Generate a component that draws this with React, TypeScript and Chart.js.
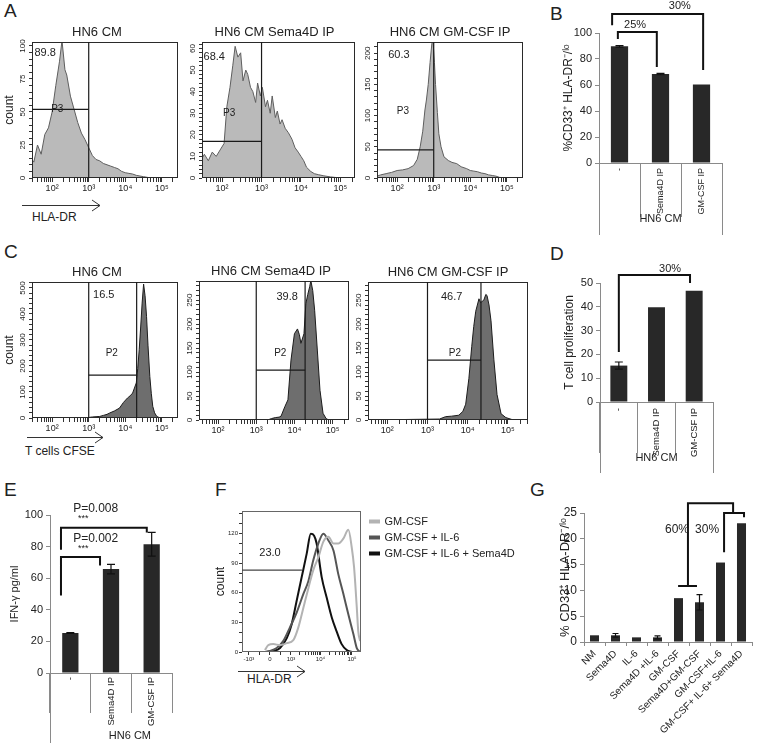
import React, { useEffect, useRef } from 'react';
import { Chart, registerables } from 'chart.js';

Chart.register(...registerables);

const FONT = 'Arial, "Liberation Sans", Helvetica, sans-serif';
Chart.defaults.font.family = FONT;
Chart.defaults.color = '#333';

// ---------------- Panel A : HLA-DR histograms (x = log10 intensity, y = count)
const a1Log = [1.45, 1.5, 1.6, 1.7, 1.8, 1.9, 2.0, 2.1, 2.2, 2.27, 2.35, 2.4, 2.5, 2.6, 2.7, 2.8, 2.9, 3.0, 3.1, 3.2, 3.3, 3.4, 3.5, 3.6, 3.7, 3.8, 3.9, 4.0, 4.1, 4.2, 4.3, 4.4, 4.5, 4.6, 4.7, 5.44];
const a1Count = [14, 12, 25, 18, 33, 38, 50, 70, 88, 104, 82, 78, 62, 52, 42, 34, 29, 23, 17, 14, 13, 11, 10, 9, 8, 7, 5, 4, 3.5, 3, 2, 1.5, 1, 0.5, 0, 0];

const a2Log = [1.49, 1.55, 1.65, 1.75, 1.85, 1.95, 2.05, 2.12, 2.2, 2.27, 2.33, 2.4, 2.47, 2.53, 2.6, 2.65, 2.72, 2.78, 2.85, 2.9, 2.97, 3.02, 3.1, 3.15, 3.22, 3.27, 3.35, 3.4, 3.47, 3.52, 3.6, 3.68, 3.77, 3.85, 3.93, 4.0, 4.07, 4.14, 4.25, 4.34, 4.45, 4.58, 4.75, 5.0, 5.37];
const a2Count = [9, 11, 8, 12, 10, 13, 16, 33, 42, 52, 61, 56, 58, 45, 50, 48, 42, 40, 35, 44, 38, 42, 33, 36, 30, 38, 28, 31, 25, 27, 23, 21, 18, 14, 12, 10, 8, 5, 3, 2, 1.5, 1, 0.5, 0, 0];

const a3Log = [1.45, 1.55, 1.7, 1.85, 2.0, 2.15, 2.3, 2.45, 2.55, 2.63, 2.7, 2.76, 2.8, 2.85, 2.9, 2.95, 2.98, 3.02, 3.05, 3.1, 3.14, 3.2, 3.28, 3.4, 3.5, 3.63, 3.75, 3.9, 4.0, 4.1, 4.2, 4.3, 4.4, 4.5, 4.6, 4.7, 4.8, 5.0, 5.44];
const a3Count = [3, 5, 7, 9, 12, 13, 15, 20, 30, 50, 75, 109, 125, 150, 185, 216, 220, 185, 150, 105, 71, 50, 34, 28, 25, 23, 18, 15, 12, 11, 10, 8, 7, 5, 4, 3, 1, 0, 0];

// ---------------- Panel C : CFSE histograms
const c1Log = [1.5, 2.9, 3.0, 3.1, 3.2, 3.3, 3.4, 3.5, 3.57, 3.7, 3.84, 3.95, 4.06, 4.13, 4.2, 4.3, 4.34, 4.38, 4.42, 4.46, 4.5, 4.54, 4.58, 4.62, 4.67, 4.71, 4.75, 4.8, 4.86, 4.95, 5.44];
const c1Count = [0, 0, 2, 4, 5, 6, 10, 14, 19, 27, 38, 60, 77, 85, 96, 135, 190, 263, 350, 442, 515, 470, 391, 280, 160, 95, 45, 20, 6, 0, 0];

const c2Log = [1.5, 3.3, 3.4, 3.5, 3.6, 3.65, 3.75, 3.83, 3.91, 4.0, 4.08, 4.13, 4.17, 4.25, 4.3, 4.35, 4.4, 4.43, 4.48, 4.53, 4.6, 4.67, 4.75, 4.83, 4.9, 5.43];
const c2Count = [0, 0, 3, 5, 6, 8, 28, 42, 125, 180, 190, 178, 160, 180, 243, 262, 278, 291, 270, 229, 146, 62, 14, 3, 0, 0];

const c3Log = [1.52, 3.3, 3.45, 3.6, 3.78, 3.88, 3.95, 4.03, 4.1, 4.15, 4.2, 4.28, 4.32, 4.35, 4.4, 4.45, 4.48, 4.53, 4.58, 4.65, 4.73, 4.83, 4.95, 5.1, 5.5];
const c3Count = [0, 2, 7, 8, 10, 18, 33, 87, 153, 195, 227, 253, 245, 247, 250, 262, 260, 240, 207, 127, 53, 13, 5, 1, 0];

// ---------------- Panel B / D / E bars
const hnLabels = ['-', 'Sema4D IP', 'GM-CSF IP'];
const bValues = [89.8, 68.4, 60.3];
const bErrors = [0.6, 0.5, 0];
const dValues = [15.3, 39.8, 46.7];
const dErrors = [1.5, 0, 0];
const eValues = [25.3, 65.8, 81.5];
const eErrors = [0.3, 3, 7.5];

const bBrackets = [
  { x0: -0.18, x1: 2.04, y: 114.6, y0: 106, y1: 71.5 },
  { x0: -0.04, x1: 0.91, y: 100.8, y0: 95.4, y1: 73.8 },
];
const bNotes = [
  { text: '30%', x: 1.47, y: 120.8 },
  { text: '25%', x: 0.38, y: 106 },
];
const dBrackets = [{ x0: 0, x1: 1.89, y: 53.4, y0: 21, y1: 50 }];
const dNotes = [{ text: '30%', x: 1.36, y: 55.9 }];
const eBrackets = [
  { x0: -0.23, x1: 1.88, y: 92, y0: 78, y1: 89 },
  { x0: -0.23, x1: 0.73, y: 73.4, y0: 49, y1: 68 },
];
const eNotes = [
  { text: 'P=0.008', x: 0.07, y: 104, align: 'left', size: 12 },
  { text: '***', x: 0.19, y: 97.5, align: 'left', size: 9 },
  { text: 'P=0.002', x: 0.07, y: 85, align: 'left', size: 12 },
  { text: '***', x: 0.19, y: 79, align: 'left', size: 9 },
];

// ---------------- Panel F : overlaid HLA-DR histograms (x in display units of the biexponential axis)
const fGmX = [-0.24, -0.08, 0.16, 0.48, 0.8, 1.11, 1.35, 1.59, 1.83, 2.06, 2.3, 2.54, 2.78, 3.02, 3.25, 3.49, 3.73, 3.89, 4.0, 4.13, 4.2, 4.29];
const fGmY = [2, 7, 8, 7, 9, 12, 25, 45, 65, 83, 96, 112, 117, 110, 110, 115, 124, 106, 86, 45, 21, 11];
const fIl6X = [-0.24, 0, 0.32, 0.63, 0.95, 1.27, 1.59, 1.83, 2.06, 2.3, 2.54, 2.78, 3.02, 3.25, 3.49, 3.73, 3.97, 4.13, 4.29];
const fIl6Y = [0, 1, 4, 11, 25, 40, 59, 72, 93, 110, 120, 113, 103, 79, 59, 38, 18, 4, 0];
const fSemaX = [-0.24, 0.16, 0.48, 0.8, 1.03, 1.27, 1.51, 1.75, 1.94, 2.1, 2.22, 2.46, 2.7, 2.94, 3.17, 3.41, 3.65, 3.89];
const fSemaY = [0, 1, 4, 14, 28, 52, 76, 100, 120, 118, 110, 76, 55, 35, 21, 8, 2, 0];
const fSeries = ['GM-CSF', 'GM-CSF + IL-6', 'GM-CSF + IL-6 + Sema4D'];
const fColors = ['#b3b3b3', '#555555', '#111111'];
const fTickPos = [-1, 0, 1, 2.4, 3.9];
const fTickLabels = ['-10³', '0', '10³', '10⁴', '10⁵'];

// ---------------- Panel G bars
const gLabels = ['NM', 'Sema4D', 'IL-6', 'Sema4D +IL-6', 'GM-CSF', 'Sema4D+GM-CSF', 'GM-CSF+IL-6', 'GM-CSF+ IL-6+ Sema4D'];
const gValues = [1.3, 1.3, 0.9, 0.9, 8.5, 7.7, 15.4, 23.0];
const gErrors = [0, 0.35, 0, 0.3, 0, 1.5, 0, 0];
const gBrackets = [
  { x0: 4.45, x1: 6.6, y: 26.9, y0: 10.85, y1: 25.2 },
  { x0: 6.17, x1: 7.12, y: 25.0, y0: 17.4, y1: 24.2 },
];
const gSegs = [{ x0: 3.98, y0: 10.85, x1: 4.88, y1: 10.85 }];
const gNotes = [
  { text: '60%', x: 3.93, y: 21.7, size: 12 },
  { text: '30%', x: 5.36, y: 21.7, size: 12 },
];

// ---------------- helpers
const SUP: Record<string, string> = { '1': '¹', '2': '²', '3': '³', '4': '⁴', '5': '⁵' };
const isInt = (v: number) => Math.abs(v - Math.round(v)) < 1e-6;
const decadeLabel = (p: number) => '10' + SUP[String(p)];

function logTicks(min: number, max: number) {
  const t: any[] = [];
  for (let n = 1; n <= 5; n++) {
    for (let k = 1; k <= 9; k++) {
      const v = n + Math.log10(k);
      if (v >= min - 1e-9 && v <= max + 1e-9) t.push({ value: v });
    }
  }
  return t;
}

function fTicks() {
  const t: number[] = [...fTickPos];
  for (let k = 2; k <= 9; k++) {
    t.push(1 + 1.4 * Math.log10(k));
    t.push(2.4 + 1.5 * Math.log10(k));
  }
  t.push(-0.5, 0.5);
  return t.sort((a, b) => a - b).map((value) => ({ value }));
}

const fixW = (w: number) => (s: any) => {
  s.width = w;
  s.paddingLeft = 0; s.paddingRight = 0; s.paddingTop = 0; s.paddingBottom = 0;
};
const fixH = (h: number) => (s: any) => {
  s.height = h;
  s.paddingLeft = 0; s.paddingRight = 0; s.paddingTop = 0; s.paddingBottom = 0;
};

const crisp = (v: number) => Math.round(v) + 0.5;

const extras: any = {
  id: 'extras',
  afterDatasetsDraw(chart: any, _args: any, o: any) {
    const ctx = chart.ctx;
    const ca = chart.chartArea;
    const xs = chart.scales.x;
    const ys = chart.scales.y;
    const px = (v: number) => xs.getPixelForValue(v);
    const py = (v: number) => ys.getPixelForValue(v);
    ctx.save();
    if (o.frame) {
      ctx.strokeStyle = o.frame;
      ctx.lineWidth = 1;
      ctx.strokeRect(crisp(ca.left), crisp(ca.top), Math.round(ca.right - ca.left) - 1, Math.round(ca.bottom - ca.top) - 1);
    }
    if (o.yRot) {
      // rotated y tick labels, placed at the library's own tick positions
      ctx.fillStyle = '#222';
      ctx.font = `${o.yRot.size}px ${FONT}`;
      ctx.textAlign = 'center';
      ctx.textBaseline = 'middle';
      ys.ticks.forEach((t: any) => {
        if (Math.abs(t.value % o.yRot.major) > 1e-6) return;
        ctx.save();
        ctx.translate(ca.left - o.yRot.offset, ys.getPixelForValue(t.value));
        ctx.rotate(-Math.PI / 2);
        ctx.fillText(String(t.value), 0, 0);
        ctx.restore();
      });
    }
    (o.segs || []).forEach((s: any) => {
      ctx.beginPath();
      ctx.strokeStyle = o.segColor || '#222';
      ctx.lineWidth = o.segWidth || 1.2;
      ctx.moveTo(px(s.x0), py(s.y0));
      ctx.lineTo(px(s.x1), py(s.y1));
      ctx.stroke();
    });
    (o.brackets || []).forEach((b: any) => {
      ctx.beginPath();
      ctx.strokeStyle = '#111';
      ctx.lineWidth = 2;
      ctx.moveTo(px(b.x0), py(b.y0));
      ctx.lineTo(px(b.x0), py(b.y));
      ctx.lineTo(px(b.x1), py(b.y));
      ctx.lineTo(px(b.x1), py(b.y1));
      ctx.stroke();
    });
    if (o.errVals) {
      const vals = o.errVals as number[];
      const errs = o.errs as number[];
      ctx.strokeStyle = '#111';
      ctx.lineWidth = 1.2;
      vals.forEach((v, i) => {
        const e = errs[i];
        if (!e) return;
        const x = px(i);
        const yt = py(v + e);
        const yb = py(v - e);
        const w = o.capW || 4;
        ctx.beginPath();
        ctx.moveTo(x, yt); ctx.lineTo(x, yb);
        ctx.moveTo(x - w, yt); ctx.lineTo(x + w, yt);
        ctx.moveTo(x - w, yb); ctx.lineTo(x + w, yb);
        ctx.stroke();
      });
    }
    if (o.group) {
      const g = o.group;
      ctx.strokeStyle = '#8a8a8a';
      ctx.lineWidth = 1;
      ctx.beginPath();
      (g.lines as number[]).forEach((xv: number) => {
        const x = crisp(px(xv));
        ctx.moveTo(x, ca.bottom);
        ctx.lineTo(x, ca.bottom + g.depth);
      });
      ctx.stroke();
      ctx.fillStyle = '#222';
      ctx.font = `${g.size || 11}px ${FONT}`;
      ctx.textAlign = 'center';
      ctx.textBaseline = 'middle';
      ctx.fillText(g.label, (px(g.x0) + px(g.x1)) / 2, ca.bottom + g.labelDy);
    }
    (o.texts || []).forEach((t: any) => {
      ctx.fillStyle = '#222';
      ctx.font = `${t.size || 11}px ${FONT}`;
      ctx.textAlign = t.align || 'center';
      ctx.textBaseline = 'middle';
      ctx.fillText(t.text, px(t.x), py(t.y));
    });
    if (o.title) {
      ctx.fillStyle = '#222';
      ctx.font = `${o.title.size || 13}px ${FONT}`;
      ctx.textAlign = 'center';
      ctx.textBaseline = 'middle';
      ctx.fillText(o.title.text, (ca.left + ca.right) / 2 + (o.title.dx || 0), ca.top - o.title.dy);
    }
    ctx.restore();
  },
};

// ---------------- chart builders
function flowChart(s: any) {
  const yW = 30, xH = 22, padTop = 20, padRight = 2;
  const box = { left: s.l - yW, top: s.t - padTop, width: s.r - s.l + yW + padRight, height: s.b - s.t + padTop + xH };
  const config = () => ({
    type: 'line',
    data: {
      datasets: [{
        data: s.xs.map((x: number, i: number) => ({ x, y: s.ys[i] })),
        fill: 'origin', backgroundColor: s.fill, borderColor: s.stroke, borderWidth: 1, pointRadius: 0, tension: 0,
      }],
    },
    options: {
      responsive: false, maintainAspectRatio: false, animation: false, events: [],
      layout: { padding: { top: padTop, right: padRight, left: 0, bottom: 0 } },
      plugins: {
        legend: { display: false }, tooltip: { enabled: false },
        extras: {
          frame: '#2a2a2a', segs: s.gates, segColor: '#1a1a1a', texts: s.notes,
          title: { text: s.title, dx: s.titleDx, dy: 10, size: 13 },
          yRot: { major: s.yMajor, size: 8, offset: 9 },
        },
      },
      scales: {
        x: {
          type: 'linear', min: s.xMin, max: s.xMax,
          afterBuildTicks: (sc: any) => { sc.ticks = logTicks(s.xMin, s.xMax); },
          ticks: {
            autoSkip: false, maxRotation: 0, minRotation: 0, padding: 1, font: { size: 9 }, color: '#222',
            callback: (v: number) => (isInt(v) ? decadeLabel(Math.round(v)) : ''),
          },
          grid: { drawOnChartArea: false, drawTicks: true, tickLength: 4, color: '#333' },
          border: { display: false },
          afterFit: fixH(xH),
        },
        y: {
          type: 'linear', min: 0, max: s.yMax,
          ticks: { stepSize: s.yStep, includeBounds: false, autoSkip: false, display: false },
          grid: { drawOnChartArea: false, drawTicks: true, tickLength: 3, color: '#333' },
          border: { display: false },
          title: s.yTitle
            ? { display: true, text: s.yTitle, font: { size: 12 }, color: '#222', padding: { top: 0, bottom: 0 } }
            : { display: false },
          afterFit: fixW(yW),
        },
      },
    },
    plugins: [extras],
  });
  return { box, config };
}

function barChart(s: any) {
  const box = { left: s.l - s.yW, top: s.t - s.padTop, width: s.r - s.l + s.yW + s.padRight, height: s.b - s.t + s.padTop + s.xH };
  const config = () => ({
    type: 'bar',
    data: {
      labels: s.labels,
      datasets: [{ data: s.values, backgroundColor: '#282828', borderWidth: 0, categoryPercentage: 1, barPercentage: s.barPct }],
    },
    options: {
      responsive: false, maintainAspectRatio: false, animation: false, events: [],
      layout: { padding: { top: s.padTop, right: s.padRight, left: 0, bottom: 0 } },
      plugins: {
        legend: { display: false }, tooltip: { enabled: false },
        extras: {
          brackets: s.brackets, texts: s.notes, segs: s.segs, segColor: '#111', segWidth: 2,
          errVals: s.values, errs: s.errors, capW: s.capW, group: s.group,
        },
      },
      scales: {
        x: {
          offset: true,
          grid: { offset: true, drawOnChartArea: false, drawTicks: true, tickLength: s.sepLen, color: '#8a8a8a' },
          border: { display: true, color: '#8a8a8a' },
          ticks: {
            autoSkip: false, minRotation: s.rot, maxRotation: s.rot, padding: s.labelPad,
            font: { size: s.catFont }, color: '#222',
          },
          afterFit: fixH(s.xH),
        },
        y: {
          min: 0, max: s.yMax,
          ticks: { stepSize: s.yStep, font: { size: s.tickFont }, padding: 3, color: '#222' },
          grid: { drawOnChartArea: false, drawTicks: true, tickLength: 4, color: '#8a8a8a' },
          border: { display: true, color: '#8a8a8a' },
          title: {
            display: true, text: s.yTitle, font: { size: s.yTitleSize }, color: '#222',
            padding: { top: s.yTitlePad, bottom: 0 },
          },
          afterFit: fixW(s.yW),
        },
      },
    },
    plugins: [extras],
  });
  return { box, config };
}

const fLine = (i: number, xs: number[], ys: number[]) => ({
  label: fSeries[i], data: xs.map((x, k) => ({ x, y: ys[k] })), borderColor: fColors[i], backgroundColor: fColors[i],
  borderWidth: 2, pointRadius: 0, fill: false, cubicInterpolationMode: 'monotone',
});

function fChart() {
  const l = 242, t = 511, r = 361, b = 652, yW = 29, xH = 14, padRight = 2, padTop = 2;
  const box = { left: l - yW, top: t - padTop, width: r - l + yW + padRight, height: b - t + xH + padTop };
  const config = () => ({
    type: 'line',
    data: { datasets: [fLine(0, fGmX, fGmY), fLine(1, fIl6X, fIl6Y), fLine(2, fSemaX, fSemaY)] },
    options: {
      responsive: false, maintainAspectRatio: false, animation: false, events: [],
      layout: { padding: { top: padTop, right: padRight, left: 0, bottom: 0 } },
      plugins: {
        tooltip: { enabled: false },
        legend: { display: false },
        extras: {
          frame: '#666', segs: [{ x0: -1.33, y0: 83, x1: 1.52, y1: 83 }], segColor: '#444',
          texts: [{ text: '23.0', x: 0, y: 100, size: 11 }],
        },
      },
      scales: {
        x: {
          type: 'linear', min: -1.33, max: 4.33,
          afterBuildTicks: (sc: any) => { sc.ticks = fTicks(); },
          ticks: {
            autoSkip: false, maxRotation: 0, minRotation: 0, padding: 1, font: { size: 6 }, color: '#222',
            callback: (v: number) => {
              const i = fTickPos.findIndex((p) => Math.abs(p - v) < 1e-6);
              return i >= 0 ? fTickLabels[i] : '';
            },
          },
          grid: { drawOnChartArea: false, drawTicks: true, tickLength: 3, color: '#333' },
          border: { display: false },
          afterFit: fixH(xH),
        },
        y: {
          min: 0, max: 143,
          ticks: {
            stepSize: 10, includeBounds: false, autoSkip: false, padding: 1, font: { size: 6 }, color: '#222',
            callback: (v: number) => (v % 30 === 0 ? String(v) : ''),
          },
          grid: { drawOnChartArea: false, drawTicks: true, tickLength: 3, color: '#333' },
          border: { display: false },
          title: { display: true, text: 'count', font: { size: 12 }, color: '#222', padding: { top: 0, bottom: 0 } },
          afterFit: fixW(yW),
        },
      },
    },
    plugins: [extras],
  });
  return { box, config };
}

// legend of panel F: a legend-only chart built from the same series definitions
function fLegend() {
  const box = { left: 361, top: 511, width: 360, height: 80 };
  const config = () => ({
    type: 'line',
    data: { datasets: [fLine(0, [], []), fLine(1, [], []), fLine(2, [], [])] },
    options: {
      responsive: false, maintainAspectRatio: false, animation: false, events: [],
      layout: { padding: { left: 4, top: 0, right: 0, bottom: 0 } },
      plugins: {
        tooltip: { enabled: false },
        legend: {
          display: true, position: 'left', align: 'start',
          labels: { boxWidth: 9, boxHeight: 2, padding: 5, font: { size: 11 }, color: '#222' },
        },
      },
      scales: { x: { type: 'linear', display: false }, y: { display: false } },
    },
  });
  return { box, config };
}

// ---------------- panels
const A_FILL = '#bababa', A_LINE = '#5e5e5e', C_FILL = '#6e6e6e', C_LINE = '#1c1c1c';

const panels = [
  flowChart({
    l: 32, t: 42, r: 178, b: 178, xMin: 1.45, xMax: 5.44, yMax: 103, yStep: 5, yMajor: 25,
    xs: a1Log, ys: a1Count, fill: A_FILL, stroke: A_LINE, title: 'HN6 CM', titleDx: -8, yTitle: 'count',
    gates: [{ x0: 3, y0: 0, x1: 3, y1: 103 }, { x0: 1.45, y0: 52, x1: 3, y1: 52 }],
    notes: [{ text: '89.8', x: 1.81, y: 95 }, { text: 'P3', x: 2.14, y: 52, size: 10 }],
  }),
  flowChart({
    l: 202, t: 42, r: 355, b: 178, xMin: 1.49, xMax: 5.37, yMax: 63, yStep: 2, yMajor: 10,
    xs: a2Log, ys: a2Count, fill: A_FILL, stroke: A_LINE, title: 'HN6 CM Sema4D IP', titleDx: -4,
    gates: [{ x0: 3, y0: 0, x1: 3, y1: 63 }, { x0: 1.49, y0: 17, x1: 3, y1: 17 }],
    notes: [{ text: '68.4', x: 1.8, y: 56 }, { text: 'P3', x: 2.18, y: 30, size: 10 }],
  }),
  flowChart({
    l: 377, t: 42, r: 523, b: 178, xMin: 1.45, xMax: 5.44, yMax: 218, yStep: 10, yMajor: 50,
    xs: a3Log, ys: a3Count, fill: A_FILL, stroke: A_LINE, title: 'HN6 CM GM-CSF IP', titleDx: 0,
    gates: [{ x0: 3, y0: 0, x1: 3, y1: 218 }, { x0: 1.45, y0: 45, x1: 3, y1: 45 }],
    notes: [{ text: '60.3', x: 2.05, y: 198 }, { text: 'P3', x: 2.16, y: 107, size: 10 }],
  }),
  flowChart({
    l: 32, t: 282, r: 178, b: 418, xMin: 1.45, xMax: 5.44, yMax: 523, yStep: 20, yMajor: 100,
    xs: c1Log, ys: c1Count, fill: C_FILL, stroke: C_LINE, title: 'HN6 CM', titleDx: -8, yTitle: 'count',
    gates: [{ x0: 3, y0: 0, x1: 3, y1: 523 }, { x0: 4.31, y0: 0, x1: 4.31, y1: 523 }, { x0: 3, y0: 165, x1: 4.31, y1: 165 }],
    notes: [{ text: '16.5', x: 3.41, y: 473 }, { text: 'P2', x: 3.63, y: 250, size: 10 }],
  }),
  flowChart({
    l: 199, t: 281, r: 349, b: 420, xMin: 1.5, xMax: 5.43, yMax: 290, yStep: 10, yMajor: 50,
    xs: c2Log, ys: c2Count, fill: C_FILL, stroke: C_LINE, title: 'HN6 CM Sema4D IP', titleDx: -3,
    gates: [{ x0: 3, y0: 0, x1: 3, y1: 290 }, { x0: 4.28, y0: 0, x1: 4.28, y1: 290 }, { x0: 3, y0: 104, x1: 4.28, y1: 104 }],
    notes: [{ text: '39.8', x: 3.81, y: 256 }, { text: 'P2', x: 3.63, y: 140, size: 10 }],
  }),
  flowChart({
    l: 368, t: 282, r: 528, b: 420, xMin: 1.52, xMax: 5.5, yMax: 288, yStep: 10, yMajor: 50,
    xs: c3Log, ys: c3Count, fill: C_FILL, stroke: C_LINE, title: 'HN6 CM GM-CSF IP', titleDx: 0,
    gates: [{ x0: 3, y0: 0, x1: 3, y1: 288 }, { x0: 4.33, y0: 0, x1: 4.33, y1: 288 }, { x0: 3, y0: 125, x1: 4.33, y1: 125 }],
    notes: [{ text: '46.7', x: 3.6, y: 256 }, { text: 'P2', x: 3.68, y: 140, size: 10 }],
  }),
  barChart({
    l: 599, t: 33, r: 722, b: 163, yW: 40, xH: 72, padTop: 33, padRight: 4,
    labels: hnLabels, values: bValues, errors: bErrors, yMax: 100, yStep: 10, tickFont: 11,
    yTitle: '%CD33⁺ HLA-DR⁻/ˡᵒ', yTitleSize: 12, yTitlePad: 2, barPct: 0.42, rot: 90, catFont: 9,
    sepLen: 54, labelPad: -49, brackets: bBrackets, notes: bNotes, capW: 4,
    group: { x0: -0.5, x1: 2.5, lines: [-0.5, 2.5], depth: 72, labelDy: 56, label: 'HN6 CM' },
  }),
  barChart({
    l: 600, t: 283, r: 713, b: 402, yW: 40, xH: 71, padTop: 22, padRight: 4,
    labels: hnLabels, values: dValues, errors: dErrors, yMax: 50, yStep: 5, tickFont: 11,
    yTitle: 'T cell proliferation', yTitleSize: 12, yTitlePad: 2, barPct: 0.45, rot: 90, catFont: 9.5,
    sepLen: 51, labelPad: -45, brackets: dBrackets, notes: dNotes, capW: 4,
    group: { x0: -0.5, x1: 2.5, lines: [-0.5, 2.5], depth: 71, labelDy: 56, label: 'HN6 CM' },
  }),
  barChart({
    l: 50, t: 515, r: 172, b: 673, yW: 50, xH: 70, padTop: 30, padRight: 45,
    labels: hnLabels, values: eValues, errors: eErrors, yMax: 100, yStep: 10, tickFont: 11,
    yTitle: 'IFN-γ pg/ml', yTitleSize: 11, yTitlePad: 8, barPct: 0.4, rot: 90, catFont: 9.5,
    sepLen: 40, labelPad: -36, brackets: eBrackets, notes: eNotes, capW: 4,
    group: { x0: -0.5, x1: 3.43, lines: [-0.5], depth: 70, labelDy: 63, label: 'HN6 CM' },
  }),
  barChart({
    l: 584, t: 513, r: 752, b: 642, yW: 28, xH: 92, padTop: 15, padRight: 4,
    labels: gLabels, values: gValues, errors: gErrors, yMax: 25, yStep: 5, tickFont: 12,
    yTitle: '% CD33⁺ HLA-DR⁻/ˡᵒ', yTitleSize: 13, yTitlePad: 2, barPct: 0.43, rot: 45, catFont: 10,
    sepLen: 4, labelPad: 2, brackets: gBrackets, notes: gNotes, segs: gSegs, capW: 3,
  }),
  fChart(),
  fLegend(),
];

function ChartBox(props: { box: any; config: () => any }) {
  const ref = useRef<HTMLCanvasElement | null>(null);
  useEffect(() => {
    const chart = new Chart(ref.current as HTMLCanvasElement, props.config());
    return () => chart.destroy();
  }, []);
  const { left, top, width, height } = props.box;
  return (
    <canvas ref={ref} width={width} height={height}
      style={{ position: 'absolute', left, top, width, height }} />
  );
}

const letters = [
  { t: 'A', x: 4, y: 0.5 }, { t: 'B', x: 550, y: 3.5 }, { t: 'C', x: 4, y: 241.5 }, { t: 'D', x: 550, y: 243.5 },
  { t: 'E', x: 4, y: 479.5 }, { t: 'F', x: 215, y: 479.5 }, { t: 'G', x: 530, y: 479.5 },
];
const captions = [
  { t: 'HLA-DR', x: 32, y: 211 }, { t: 'T cells CFSE', x: 25, y: 445 }, { t: 'HLA-DR', x: 247, y: 673 },
];
const arrows = [
  { x0: 22, x1: 100, y: 205 }, { x0: 27, x1: 103, y: 437 }, { x0: 238, x1: 305, y: 671 },
];

export default function App() {
  return (
    <div style={{ position: 'absolute', left: 0, top: 0, width: 758, height: 746, background: '#fff', overflow: 'hidden', fontFamily: FONT, color: '#222' }}>
      {letters.map((l) => (
        <div key={l.t} style={{ position: 'absolute', left: l.x, top: l.y, fontSize: 19, lineHeight: 1 }}>{l.t}</div>
      ))}
      {captions.map((c, i) => (
        <div key={i} style={{ position: 'absolute', left: c.x, top: c.y, fontSize: 12, lineHeight: 1, whiteSpace: 'nowrap' }}>{c.t}</div>
      ))}
      <svg width={758} height={746} style={{ position: 'absolute', left: 0, top: 0, pointerEvents: 'none' }}>
        {arrows.map((a, i) => (
          <g key={i} stroke="#333" strokeWidth={1} fill="none">
            <line x1={a.x0} y1={a.y + 0.5} x2={a.x1} y2={a.y + 0.5} />
            <polyline points={`${a.x1 - 8},${a.y - 5} ${a.x1},${a.y + 0.5} ${a.x1 - 8},${a.y + 6}`} />
          </g>
        ))}
      </svg>
      {panels.map((p, i) => (
        <ChartBox key={i} box={p.box} config={p.config} />
      ))}
    </div>
  );
}
